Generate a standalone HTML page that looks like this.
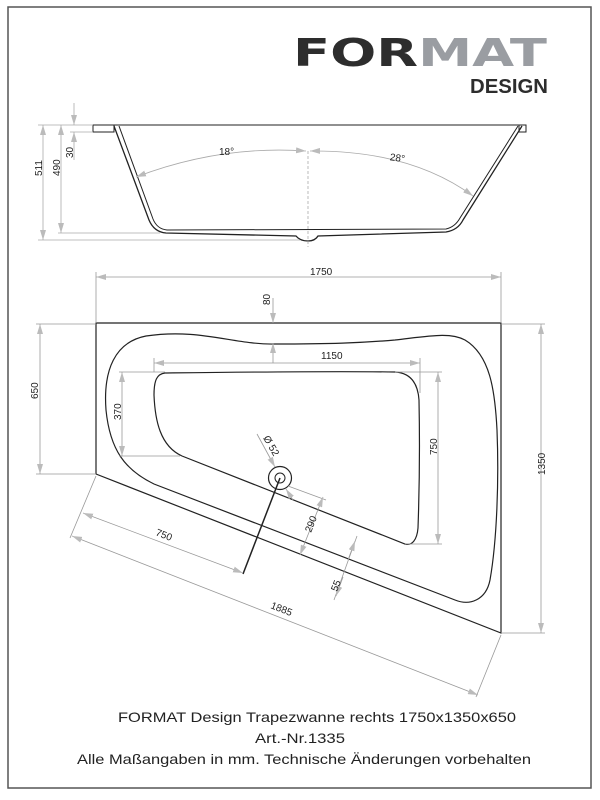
<!DOCTYPE html>
<html><head><meta charset="utf-8"><style>
html,body{margin:0;padding:0;background:#fff}
svg{display:block}
text{font-family:"Liberation Sans",sans-serif;fill:#222}
</style></head><body>
<svg width="600" height="800" viewBox="0 0 600 800" xmlns="http://www.w3.org/2000/svg">
<defs>
<marker id="a" viewBox="0 0 10 6" refX="10" refY="3" markerWidth="10" markerHeight="6" markerUnits="userSpaceOnUse" orient="auto-start-reverse"><path d="M0,0 L10,3 L0,6 z" fill="#bbb"/></marker>
</defs>
<rect x="8" y="7" width="583" height="781" fill="none" stroke="#555" stroke-width="1.5"/>
<!-- logo -->
<text x="293" y="66" font-size="38" font-weight="bold" fill="#333" textLength="254" lengthAdjust="spacingAndGlyphs" style="font-family:'DejaVu Sans',sans-serif;fill:#2d2d2d">FOR<tspan style="fill:#9a9da2">MAT</tspan></text>
<text x="470" y="93" font-size="20" font-weight="bold" textLength="78" lengthAdjust="spacingAndGlyphs" style="fill:#2d2d2d">DESIGN</text>

<!-- side view -->
<g fill="none" stroke="#222" stroke-width="1">
<line x1="93" y1="125" x2="526" y2="125"/>
<rect x="93" y="125" width="21" height="7"/>
<rect x="519" y="125" width="7" height="7"/>
<path d="M114,126 L149,220 Q154,232 166,233 L296,236 Q300,241 308,241 Q315,241 318,236 L446,232 Q458,230 463,220 L522,126" stroke-width="1.3"/>
<path d="M119,126 L153,219 Q157,229 167,230 L446,229 Q455,227 460,218 L518,126"/>
</g>
<g stroke="#aaa" stroke-width="0.8" fill="none">
<line x1="38" y1="125" x2="93" y2="125"/>
<line x1="38" y1="240" x2="300" y2="240"/>
<line x1="58" y1="233" x2="160" y2="233"/>
<line x1="70" y1="132" x2="93" y2="132"/>
<line x1="43" y1="125" x2="43" y2="240" marker-start="url(#a)" marker-end="url(#a)"/>
<line x1="61" y1="125" x2="61" y2="233" marker-start="url(#a)" marker-end="url(#a)"/>
<line x1="74" y1="103" x2="74" y2="125" marker-end="url(#a)"/>
<line x1="74" y1="160" x2="74" y2="132" marker-end="url(#a)"/>
<line x1="308" y1="151" x2="308" y2="247" stroke-dasharray="3,2"/>
<path d="M136,177 Q220,145 306,151" marker-start="url(#a)" marker-end="url(#a)"/>
<path d="M310,151 Q410,150 473,196" marker-start="url(#a)" marker-end="url(#a)"/>
</g>
<g font-size="10">
<text transform="translate(42,176) rotate(-90)">511</text>
<text transform="translate(60,176) rotate(-90)">490</text>
<text transform="translate(73,158) rotate(-90)">30</text>
<text x="219" y="155">18°</text>
<text x="390" y="161" transform="rotate(8 396 157)">28°</text>
</g>

<!-- plan view -->
<g fill="none" stroke="#222" stroke-width="1.2">
<path d="M96,323 L501,323 L501,633 L96,474 Z"/>
<path d="M146,336 C200,328 235,345 275,344 C330,344 360,343 395,340 C430,336 450,332 465,340 C490,355 495,390 497,430 C499,480 497,540 490,580 C486,600 470,606 455,600 L154,484 C125,470 110,450 106,410 C103,370 115,342 146,336 Z"/>
<path d="M165,373 C250,372 330,371 395,372 C412,373 418,385 419,400 C420,450 419,500 418,528 C417,540 412,546 405,544 L182,456 C160,446 155,420 154,395 C154,380 157,374 165,373 Z"/>
<circle cx="280" cy="478" r="11.5"/>
<circle cx="280" cy="478" r="5" stroke-width="1"/>
<line x1="280" y1="478" x2="243" y2="574" stroke-width="1.5"/>
</g>
<g stroke="#999" stroke-width="0.8" fill="none">
<line x1="96" y1="272" x2="96" y2="323"/>
<line x1="501" y1="272" x2="501" y2="323"/>
<line x1="96" y1="277" x2="501" y2="277" marker-start="url(#a)" marker-end="url(#a)"/>
<line x1="273" y1="298" x2="273" y2="323" marker-end="url(#a)"/>
<line x1="273" y1="363" x2="273" y2="343" marker-end="url(#a)"/>
<line x1="154" y1="358" x2="154" y2="372"/>
<line x1="420" y1="358" x2="420" y2="393"/>
<line x1="154" y1="363" x2="420" y2="363" marker-start="url(#a)" marker-end="url(#a)"/>
<line x1="119" y1="372" x2="165" y2="372"/>
<line x1="119" y1="456" x2="180" y2="456"/>
<line x1="122" y1="372" x2="122" y2="456" marker-start="url(#a)" marker-end="url(#a)"/>
<line x1="36" y1="324" x2="96" y2="324"/>
<line x1="36" y1="474" x2="96" y2="474"/>
<line x1="40" y1="324" x2="40" y2="474" marker-start="url(#a)" marker-end="url(#a)"/>
<line x1="395" y1="372" x2="442" y2="372"/>
<line x1="405" y1="544" x2="442" y2="544"/>
<line x1="438" y1="372" x2="438" y2="544" marker-start="url(#a)" marker-end="url(#a)"/>
<line x1="501" y1="324" x2="545" y2="324"/>
<line x1="501" y1="633" x2="545" y2="633"/>
<line x1="541" y1="324" x2="541" y2="633" marker-start="url(#a)" marker-end="url(#a)"/>
<line x1="96" y1="476" x2="70" y2="538"/>
<line x1="501" y1="635" x2="476" y2="697"/>
<line x1="72" y1="536" x2="478" y2="695" marker-start="url(#a)" marker-end="url(#a)"/>
<line x1="83" y1="513" x2="243" y2="573" marker-start="url(#a)" marker-end="url(#a)"/>
<line x1="288" y1="486" x2="326" y2="500"/>
<line x1="323" y1="497" x2="300" y2="555" marker-start="url(#a)" marker-end="url(#a)"/>
<line x1="357" y1="536" x2="334" y2="600"/>
<line x1="355" y1="541" x2="348" y2="560" marker-start="url(#a)"/>
<line x1="336" y1="596" x2="343" y2="577" marker-start="url(#a)"/>
<line x1="257" y1="434" x2="275" y2="467" marker-end="url(#a)"/>
<line x1="293" y1="500" x2="286" y2="489" marker-end="url(#a)"/>
</g>
<g font-size="10">
<text x="310" y="275">1750</text>
<text transform="translate(270,305) rotate(-90)">80</text>
<text x="321" y="359">1150</text>
<text transform="translate(121,420) rotate(-90)">370</text>
<text transform="translate(38,399) rotate(-90)">650</text>
<text transform="translate(437,455) rotate(-90)">750</text>
<text transform="translate(545,475) rotate(-90)">1350</text>
<text transform="translate(270,608) rotate(21.4)">1885</text>
<text transform="translate(155,535) rotate(21.4)">750</text>
<text transform="translate(311,533) rotate(-68.6)">290</text>
<text transform="translate(337,592) rotate(-68.6)">55</text>
<text transform="translate(263,438) rotate(60)">Ø 52</text>
</g>

<!-- footer -->
<g font-size="14">
<text x="118" y="722" textLength="398" lengthAdjust="spacingAndGlyphs">FORMAT Design Trapezwanne rechts 1750x1350x650</text>
<text x="255" y="743" textLength="90" lengthAdjust="spacingAndGlyphs">Art.-Nr.1335</text>
<text x="77" y="764" textLength="454" lengthAdjust="spacingAndGlyphs">Alle Maßangaben in mm. Technische Änderungen vorbehalten</text>
</g>
</svg>
</body></html>
